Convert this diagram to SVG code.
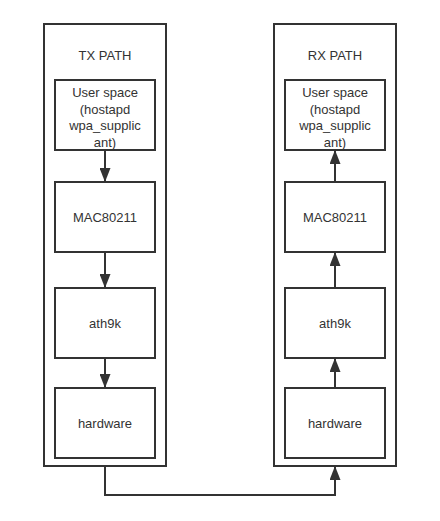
<svg xmlns="http://www.w3.org/2000/svg" width="440" height="521" viewBox="0 0 440 521">
<style>
.box{fill:#fff;stroke:#333;stroke-width:2}
.t{font-family:"Liberation Sans",Arial,sans-serif;font-size:13px;fill:#333;text-anchor:middle}
.c{fill:none;stroke:#333;stroke-width:2}
</style>
<defs>
<marker id="ah" markerWidth="14" markerHeight="11" refX="13" refY="5.5" viewBox="0 0 14 11" markerUnits="userSpaceOnUse" orient="auto">
<path d="M0,0 L14,5.5 L0,11 Z" fill="#333"/>
</marker>
</defs>
<rect width="440" height="521" fill="#fff"/>
<g id="tx-path">
<rect class="box" x="44" y="24" width="122" height="442"/>
<text class="t" x="105" y="59.5">TX PATH</text>
</g>
<g id="rx-path">
<rect class="box" x="274" y="24" width="122" height="442"/>
<text class="t" x="335" y="59.5">RX PATH</text>
</g>
<g id="tx-user">
<rect class="box" x="55" y="80" width="100" height="70"/>
<text class="t" x="105" y="97">User space</text>
<text class="t" x="105" y="113.5">(hostapd</text>
<text class="t" x="105" y="130">wpa_supplic</text>
<text class="t" x="105" y="146.5">ant)</text>
</g>
<g id="tx-mac">
<rect class="box" x="55" y="182" width="100" height="70"/>
<text class="t" x="105" y="221.5">MAC80211</text>
</g>
<g id="tx-ath9k">
<rect class="box" x="55" y="288" width="100" height="70"/>
<text class="t" x="105" y="327.5">ath9k</text>
</g>
<g id="tx-hw">
<rect class="box" x="55" y="388" width="100" height="70"/>
<text class="t" x="105" y="427.5">hardware</text>
</g>
<g id="rx-user">
<rect class="box" x="285" y="80" width="100" height="70"/>
<text class="t" x="335" y="97">User space</text>
<text class="t" x="335" y="113.5">(hostapd</text>
<text class="t" x="335" y="130">wpa_supplic</text>
<text class="t" x="335" y="146.5">ant)</text>
</g>
<g id="rx-mac">
<rect class="box" x="285" y="182" width="100" height="70"/>
<text class="t" x="335" y="221.5">MAC80211</text>
</g>
<g id="rx-ath9k">
<rect class="box" x="285" y="288" width="100" height="70"/>
<text class="t" x="335" y="327.5">ath9k</text>
</g>
<g id="rx-hw">
<rect class="box" x="285" y="388" width="100" height="70"/>
<text class="t" x="335" y="427.5">hardware</text>
</g>
<g id="connectors">
<path class="c" d="M105,151 L105,181" marker-end="url(#ah)"/>
<path class="c" d="M105,253 L105,287" marker-end="url(#ah)"/>
<path class="c" d="M105,359 L105,387" marker-end="url(#ah)"/>
<path class="c" d="M335,387 L335,359" marker-end="url(#ah)"/>
<path class="c" d="M335,287 L335,253" marker-end="url(#ah)"/>
<path class="c" d="M335,181 L335,151" marker-end="url(#ah)"/>
<path class="c" d="M105,467 L105,495 L335,495 L335,467" marker-end="url(#ah)"/>
</g>
</svg>
